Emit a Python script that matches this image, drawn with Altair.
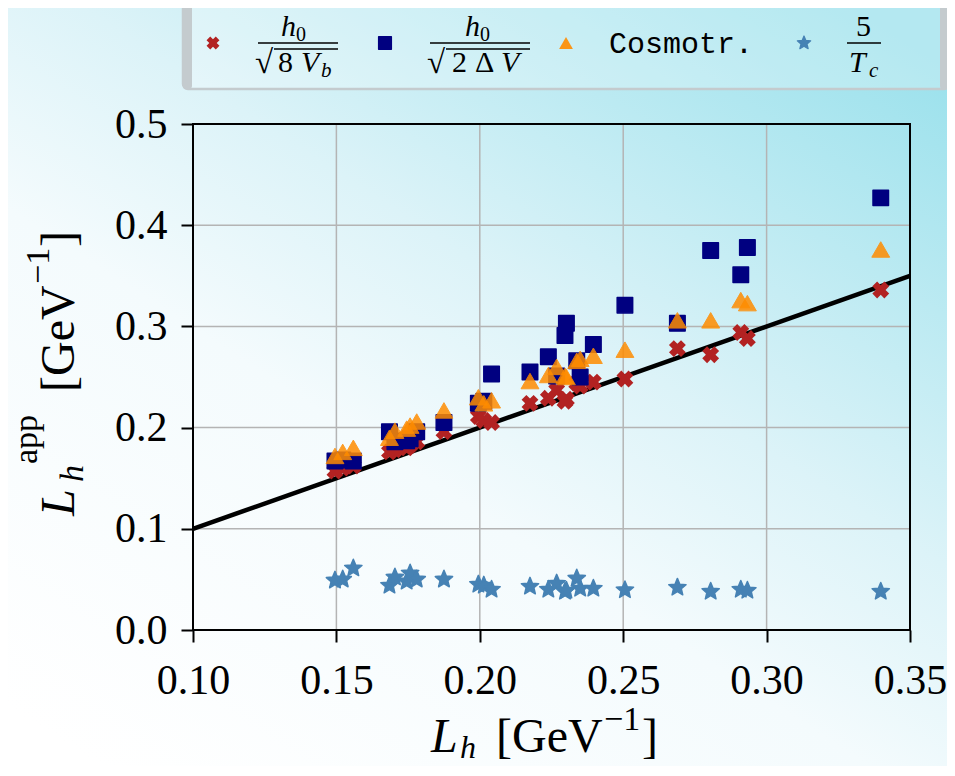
import math
import altair as alt
import pandas as pd

# ---------------- data ----------------
L_h = [0.1495, 0.1522, 0.1559, 0.1685, 0.1704, 0.1745, 0.1757, 0.1780, 0.1875,
       0.1995, 0.2014, 0.2041, 0.2175, 0.2239, 0.2268, 0.2297, 0.2302, 0.2338,
       0.2350, 0.2396, 0.2506, 0.2689, 0.2805, 0.2910, 0.2933, 0.3398]
app_vb = [0.157, 0.160, 0.162, 0.176, 0.178, 0.180, 0.183, 0.186, 0.196,
          0.211, 0.207, 0.205, 0.224, 0.229, 0.237, 0.226, 0.228, 0.244,
          0.241, 0.245, 0.248, 0.278, 0.272, 0.294, 0.288, 0.336]
app_dv = [0.167, 0.168, 0.167, 0.196, 0.186, 0.187, 0.189, 0.196, 0.205,
          0.224, 0.226, 0.253, 0.255, 0.270, 0.251, 0.291, 0.303, 0.266,
          0.250, 0.282, 0.321, 0.303, 0.375, 0.351, 0.378, 0.427]
app_cosmo = [0.172, 0.176, 0.180, 0.190, 0.197, 0.199, 0.202, 0.206, 0.217,
             0.230, 0.224, 0.227, 0.246, 0.252, 0.260, 0.251, 0.250, 0.266,
             0.268, 0.271, 0.277, 0.306, 0.306, 0.326, 0.323, 0.376]
app_tc = [0.049, 0.050, 0.061, 0.044, 0.052, 0.048, 0.056, 0.050, 0.050,
          0.045, 0.044, 0.040, 0.043, 0.040, 0.046, 0.038, 0.039, 0.051,
          0.041, 0.041, 0.0395, 0.042, 0.038, 0.040, 0.039, 0.038]
diag = [0.10, 0.35]
x_ticks = [0.10, 0.15, 0.20, 0.25, 0.30, 0.35]
y_ticks = [0.0, 0.1, 0.2, 0.3, 0.4, 0.5]

# ---------------- styling ----------------
W, H = 717, 506
SERIF = "Liberation Serif"
MONO = "Liberation Mono"
RED, NAVY, ORANGE, STEEL = "#b22222", "#000080", "#ff8c00", "#4682b4"

pts = []
for k in range(10):
    a = math.radians(-90 + 36 * k)
    r = 1.0 if k % 2 == 0 else 0.45
    pts.append(f"{r * math.cos(a):.3f},{r * math.sin(a):.3f}")
STAR = "M" + "L".join(pts) + "Z"

xs = alt.Scale(domain=[0.10, 0.35], nice=False, zero=False)
ys = alt.Scale(domain=[0.0, 0.5], nice=False, zero=False)
common_axis = dict(title=None, grid=False, domain=False, tickSize=12, tickWidth=2,
                   tickColor="black", labelFont=SERIF, labelFontSize=42,
                   labelColor="black", zindex=1, labelOverlap=False, labelFlush=False)
xaxis = alt.Axis(values=x_ticks, format=".2f", labelPadding=18, **common_axis)
yaxis = alt.Axis(values=y_ticks, format=".1f", labelPadding=14, **common_axis)


def X(f):
    return alt.X(f, type="quantitative", scale=xs, axis=xaxis)


def Y(f):
    return alt.Y(f, type="quantitative", scale=ys, axis=yaxis)


one = pd.DataFrame({"k": [0]})
pts_df = pd.DataFrame({"L": L_h, "vb": app_vb, "dv": app_dv, "cos": app_cosmo, "tc": app_tc})
grid_x = pd.DataFrame({"gx": x_ticks})
grid_y = pd.DataFrame({"gy": y_ticks})
line_df = pd.DataFrame({"lx": diag, "ly": diag})


def rect(x1, x2, y1, y2, **kw):
    return alt.Chart(one).mark_rect(**kw).encode(
        x=alt.value(x1), x2=alt.value(x2), y=alt.value(y1), y2=alt.value(y2))


def txt(s, x, y, size, font=SERIF, style="normal", angle=0, align="left"):
    return alt.Chart(one).mark_text(
        text=s, font=font, fontSize=size, fontStyle=style, angle=angle,
        align=align, baseline="alphabetic", color="black").encode(
        x=alt.value(x), y=alt.value(y))


def hline(x1, x2, y, w=1.6):
    return alt.Chart(one).mark_rule(color="black", strokeWidth=w).encode(
        x=alt.value(x1), x2=alt.value(x2), y=alt.value(y))


def sym(x, y, opacity=1, **kw):
    return alt.Chart(one).mark_point(filled=True, opacity=opacity, **kw).encode(
        x=alt.value(x), y=alt.value(y))


grad = alt.LinearGradient(
    gradient="linear", x1=0.1, y1=1, x2=0.9, y2=0,
    stops=[alt.GradientStop(color="#ffffff", offset=0),
           alt.GradientStop(color="#f4fbfd", offset=0.4),
           alt.GradientStop(color="#dcf3f8", offset=0.6),
           alt.GradientStop(color="#9be1ec", offset=1)])

background = rect(-185, 754, -116, 644, fill=grad, strokeWidth=0)

# legend frame
leg_box = rect(-10, 756, -120, -35, fill="white", fillOpacity=0.25,
               stroke="#c4cbce", strokeWidth=2.5, cornerRadius=5)
leg_l = rect(-10, -1, -120, -35, fill="#c4cbce", cornerRadius=3)
leg_r = rect(747, 756, -120, -35, fill="#c4cbce", cornerRadius=3)

gx = alt.Chart(grid_x).mark_rule(color="#b4b4b4", strokeWidth=1.5).encode(x=X("gx"))
gy = alt.Chart(grid_y).mark_rule(color="#b4b4b4", strokeWidth=1.5).encode(y=Y("gy"))
frame = rect(0, W, 0, H, filled=False, stroke="black", strokeWidth=2)

line = alt.Chart(line_df).mark_line(color="black", strokeWidth=4.5).encode(x=X("lx"), y=Y("ly"))

base = alt.Chart(pts_df)
m_vb = base.mark_point(shape="cross", angle=45, filled=True, size=290, color=RED,
                       opacity=1).encode(x=X("L"), y=Y("vb"))
m_dv = base.mark_point(shape="square", filled=True, size=240, color=NAVY, stroke=NAVY,
                       strokeWidth=1.5, strokeJoin="round", opacity=1).encode(x=X("L"), y=Y("dv"))
m_cos = base.mark_point(shape="triangle-up", filled=True, size=320, color=ORANGE,
                        stroke=ORANGE, strokeWidth=1, strokeJoin="round",
                        opacity=0.85).encode(x=X("L"), y=Y("cos"))
m_tc = base.mark_point(shape=STAR, filled=True, size=330, color=STEEL, stroke=STEEL,
                       strokeWidth=1.5, strokeJoin="round", opacity=1).encode(x=X("L"), y=Y("tc"))

# legend contents (fractions in LaTeX style)
ly = -81
legend = [
    sym(20, ly, shape="cross", angle=45, size=170, color=RED),
    txt("h", 88, -88, 30, style="italic"), txt("0", 103, -83, 20),
    hline(65, 145, ly),
    txt("√", 62, -51, 33), hline(81, 145, -75, 1.4),
    txt("8", 85, -52, 30), txt("V", 108, -52, 30, style="italic"),
    txt("b", 128, -47, 21, style="italic"),

    sym(192, ly, shape="square", size=160, color=NAVY, stroke=NAVY, strokeWidth=1.5,
        strokeJoin="round"),
    txt("h", 272, -88, 30, style="italic"), txt("0", 287, -83, 20),
    hline(237, 337, ly),
    txt("√", 234, -51, 33), hline(253, 337, -75, 1.4),
    txt("2", 259, -52, 30), txt("Δ", 282, -52, 30),
    txt("V", 308, -52, 30, style="italic"),

    sym(373, ly, shape="triangle-up", size=190, color=ORANGE, opacity=0.9),
    txt("Cosmotr.", 416, -71, 30, font=MONO),

    sym(611, ly, shape=STAR, size=200, color=STEEL, stroke=STEEL, strokeWidth=1.2,
        strokeJoin="round"),
    txt("5", 663, -88, 30), hline(654, 688, ly),
    txt("T", 656, -52, 30, style="italic"), txt("c", 676, -47, 21, style="italic"),
]

# axis titles
TY = 628
titles = [
    txt("L", 238, TY, 48, style="italic"),
    txt("h", 267, TY + 6, 32, style="italic"),
    txt("[GeV", 303, TY, 48),
    txt("−1", 411, TY - 22, 34),
    txt("]", 449, TY, 48),

    txt("L", -119, 392, 48, style="italic", angle=270),
    txt("h", -110, 358, 34, style="italic", angle=270),
    txt("app", -156, 340, 34, angle=270),
    txt("[GeV", -119, 268, 48, angle=270),
    txt("−1", -144, 160, 34, angle=270),
    txt("]", -119, 123, 48, angle=270),
]

chart = alt.layer(
    background, leg_box, leg_l, leg_r, gx, gy, frame, line,
    m_vb, m_dv, m_cos, m_tc, *legend, *titles
).properties(
    width=W, height=H,
    autosize=alt.AutoSizeParams(type="none"),
    padding={"left": 185, "top": 116, "right": 37, "bottom": 136},
).configure_view(stroke=None).configure(background="white")

chart.save("out.html", embed_options={"renderer": "svg", "actions": False})
